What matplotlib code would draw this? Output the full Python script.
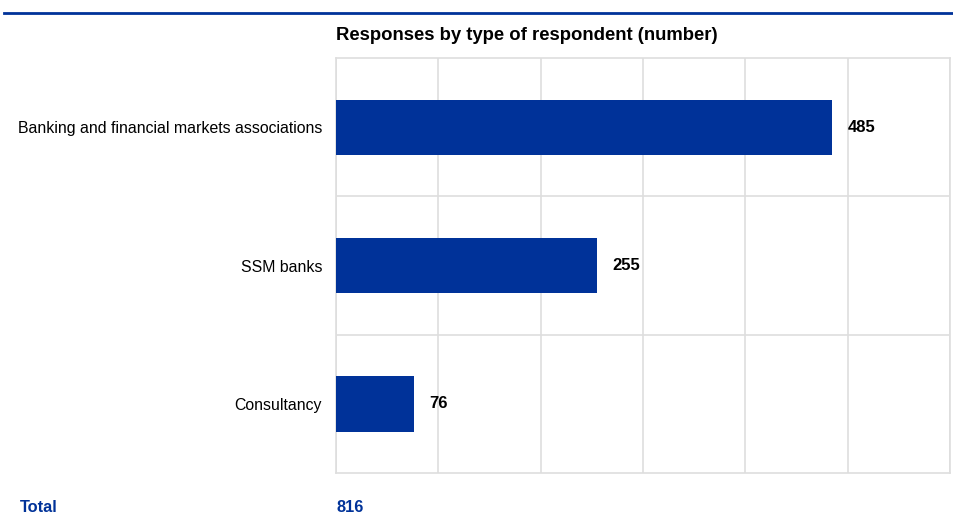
import matplotlib.pyplot as plt
from matplotlib.lines import Line2D

# Data
categories = ["Banking and financial markets associations", "SSM banks", "Consultancy"]
values = [485, 255, 76]
total_label = "Total"
total_value = 816

BLUE = "#003299"
GRID = "#dedede"

plt.rcParams['font.family'] = ['Liberation Sans', 'DejaVu Sans']

fig = plt.figure(figsize=(9.54, 5.32), dpi=100)
ax = fig.add_axes([336 / 954, 1 - 473 / 532, 614 / 954, 415 / 532])

# top category first
ypos = list(range(len(categories)))[::-1]
ax.barh(ypos, values, height=0.4, color=BLUE, zorder=3)

for y, v in zip(ypos, values):
    ax.annotate(str(v), xy=(v, y), xytext=(11, 0), textcoords="offset points",
                ha="left", va="center", fontsize=12, fontweight="bold", color="black")

ax.set_xlim(0, 600)
ax.set_ylim(-0.5, len(categories) - 0.5)
ax.set_xticks(range(0, 601, 100))
ax.set_yticks(ypos)
ax.set_yticklabels(categories, fontsize=11.4)
ax.set_yticks([i + 0.5 for i in range(len(categories) - 1)], minor=True)
ax.tick_params(axis="x", which="both", length=0, labelbottom=False)
ax.tick_params(axis="y", which="both", length=0, pad=10)
ax.grid(axis="x", which="major", color=GRID, linewidth=1.2, zorder=0)
ax.grid(axis="y", which="minor", color=GRID, linewidth=1.2, zorder=0)
for s in ax.spines.values():
    s.set_color(GRID)
    s.set_linewidth(1.2)

# title and top rule
fig.text(336 / 954, 1 - 35 / 532, "Responses by type of respondent (number)",
         ha="left", va="center", fontsize=13.3, fontweight="bold")
fig.add_artist(Line2D([4 / 954, 1], [1 - 13 / 532, 1 - 13 / 532],
                      color=BLUE, linewidth=2, transform=fig.transFigure))

# total row
fig.text(20 / 954, 1 - 507 / 532, total_label, ha="left", va="center",
         fontsize=11.8, fontweight="bold", color=BLUE)
fig.text(337 / 954, 1 - 507 / 532, str(total_value), ha="left", va="center",
         fontsize=11.8, fontweight="bold", color=BLUE)

fig.savefig("out.png", dpi=100)
